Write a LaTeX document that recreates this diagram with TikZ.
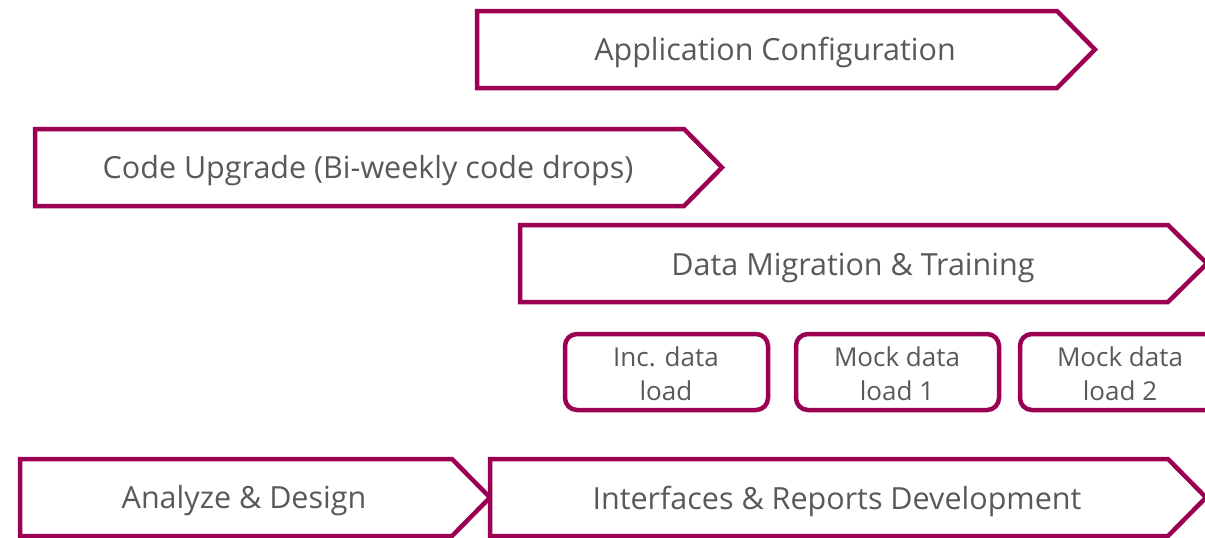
\documentclass[tikz,border=0pt]{standalone}
\usepackage{fontspec}
\setmainfont{Open Sans}
\definecolor{plum}{RGB}{155,0,82}
\definecolor{txt}{RGB}{89,89,89}
\begin{document}
\begin{tikzpicture}[x=1pt,y=-1pt,
  chev/.style={draw=plum,line width=4.5pt,fill=white,line join=miter},
  rbox/.style={draw=plum,line width=4.5pt,fill=white,rounded corners=12pt},
  lbl/.style={text=txt,font=\fontsize{30.5}{34}\selectfont,inner sep=0pt},
  slbl/.style={text=txt,font=\fontsize{26}{34}\selectfont,inner sep=0pt,align=center}]
\useasboundingbox (0,0) rectangle (1205,538);
\clip (0,0) rectangle (1205,538);
% Application Configuration
\draw[chev] (477,11) -- (1057,11) -- (1095,49.5) -- (1057,88) -- (477,88) -- cycle;
\node[lbl] (appcfg) at (775,52) {Application Configuration};
% Code Upgrade
\draw[chev] (35,129) -- (684,129) -- (722,167.5) -- (684,206) -- (35,206) -- cycle;
\node[lbl] (codeup) at (368,171) {Code Upgrade (Bi-weekly code drops)};
% Data Migration
\draw[chev] (520,225) -- (1168,225) -- (1207,263.5) -- (1168,302) -- (520,302) -- cycle;
\node[lbl] (datamig) at (853,268) {Data Migration \& Training};
% small boxes
\draw[rbox] (565,334) rectangle (768,410);
\node[slbl] (inc) at (666,374) {Inc. data\\load};
\draw[rbox] (796,334) rectangle (999,410);
\node[slbl] (mock1) at (897,374) {Mock data\\load 1};
\draw[rbox] (1020,334) rectangle (1223,410);
\node[slbl] (mock2) at (1120,374) {Mock data\\load 2};
% bottom row
\draw[chev] (20,459) -- (452,459) -- (490,497.5) -- (452,536) -- (20,536) -- cycle;
\node[lbl] (analyze) at (244,501) {Analyze \& Design};
\draw[chev] (490,459) -- (1168,459) -- (1206,497.5) -- (1168,536) -- (490,536) -- cycle;
\node[lbl] (iface) at (837,501) {Interfaces \& Reports Development};
\end{tikzpicture}
\end{document}
